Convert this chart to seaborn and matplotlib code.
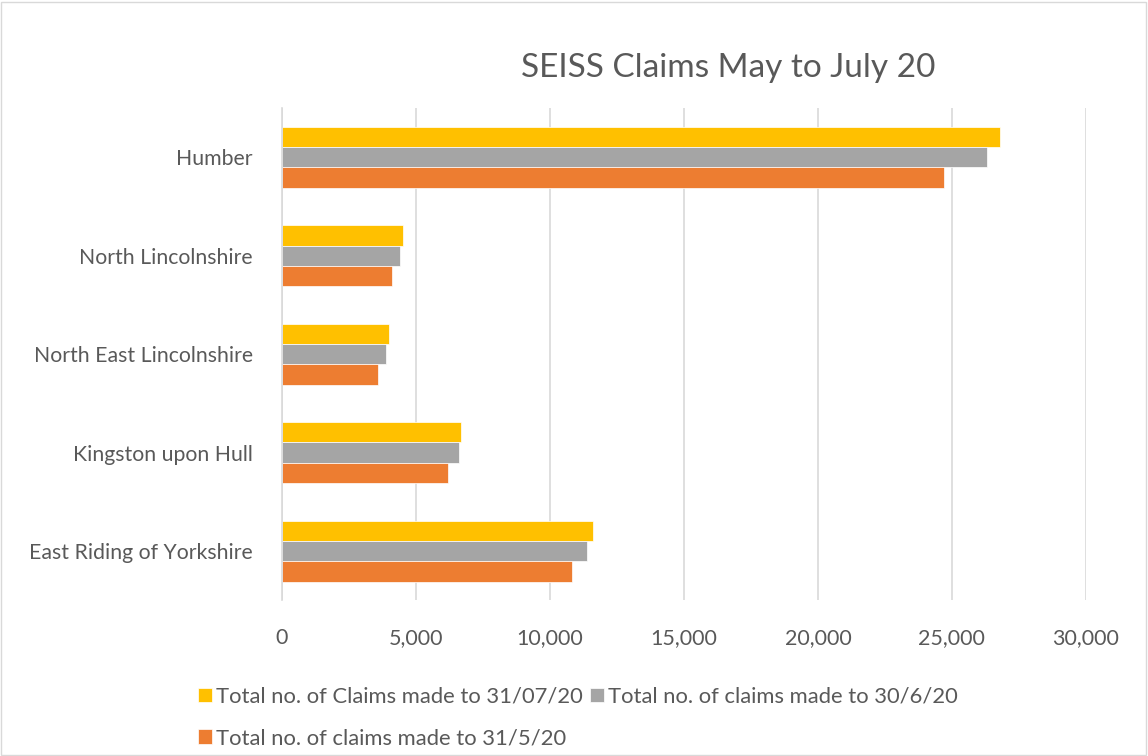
import pandas as pd
import matplotlib.pyplot as plt
import seaborn as sns
from matplotlib.patches import Rectangle

# values
areas = ["Humber", "North Lincolnshire", "North East Lincolnshire",
         "Kingston upon Hull", "East Riding of Yorkshire"]
series = ["Total no. of Claims made to 31/07/20",
          "Total no. of claims made to 30/6/20",
          "Total no. of claims made to 31/5/20"]
claims_jul = [26790, 4500, 4000, 6690, 11600]
claims_jun = [26310, 4400, 3900, 6600, 11400]
claims_may = [24700, 4090, 3600, 6190, 10810]
colours = ["#FFC000", "#A5A5A5", "#ED7D31"]

df = pd.DataFrame({"area": areas * 3,
                   "series": [s for s in series for _ in areas],
                   "claims": claims_jul + claims_jun + claims_may})

sns.set_theme(style="white")
plt.rcParams['font.family'] = ['Lato', 'DejaVu Sans']
text_col = "#595959"

fig = plt.figure(figsize=(11.48, 7.56), dpi=100)
ax = fig.add_axes([0.2456, 0.206, 0.7003, 0.651])

sns.barplot(data=df, y="area", x="claims", hue="series", order=areas,
            hue_order=series, palette=colours, width=0.62, orient="h",
            saturation=1, ax=ax, legend=True, edgecolor="white", linewidth=0.5)

ax.set_xlim(0, 30000)
ax.set_xticks(range(0, 30001, 5000))
ax.set_xticklabels([f"{v:,}" for v in range(0, 30001, 5000)])
ax.xaxis.grid(True, color="#D9D9D9", linewidth=1.2)
ax.set_axisbelow(True)
for s in ["top", "right", "bottom"]:
    ax.spines[s].set_visible(False)
ax.spines["left"].set_color("#D9D9D9")
ax.spines["left"].set_linewidth(1.2)
ax.set_xlabel("")
ax.set_ylabel("")
ax.tick_params(axis="x", length=0, colors=text_col, labelsize=15.5, pad=20)
ax.tick_params(axis="y", length=0, colors=text_col, labelsize=15.3, pad=21)

fig.text(0.634, 0.91, "SEISS Claims May to July 20", ha="center", va="center",
         fontsize=24, color=text_col)

# legend laid out row by row
h, l = ax.get_legend_handles_labels()
ax.legend([h[0], h[2], h[1]], [l[0], l[2], l[1]], ncol=2,
          loc="upper left", bbox_to_anchor=(0.155, 0.118),
          bbox_transform=fig.transFigure, frameon=False, fontsize=15.8,
          labelcolor=text_col, handlelength=0.65, handleheight=0.65,
          handletextpad=0.2, columnspacing=0.3, labelspacing=1.0)

fig.patches.append(Rectangle((0.001, 0.001), 0.997, 0.997, transform=fig.transFigure,
                             fill=False, edgecolor="#D9D9D9", linewidth=1))

fig.savefig("out.png", dpi=100)
